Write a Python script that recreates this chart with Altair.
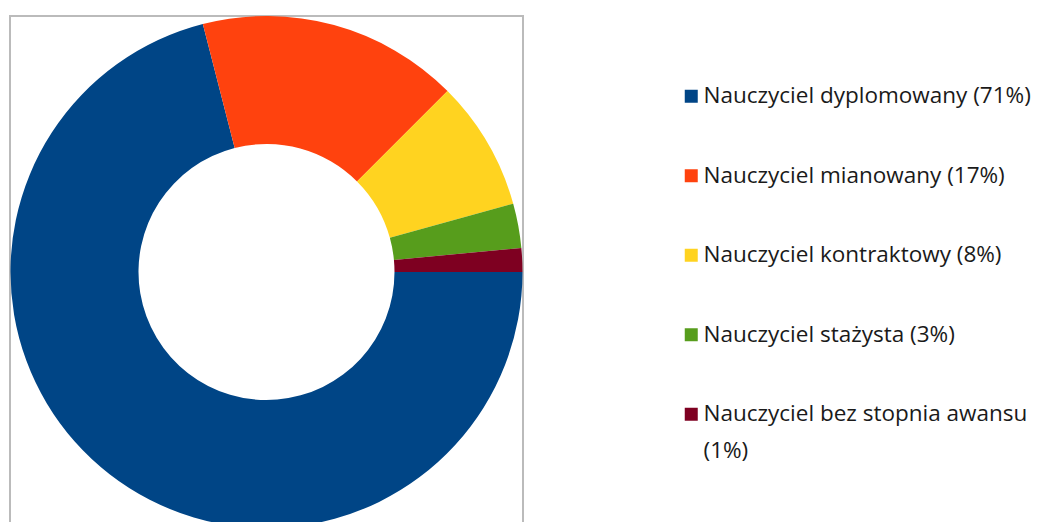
import math
import altair as alt
import pandas as pd

categories = [
    "Nauczyciel dyplomowany",
    "Nauczyciel mianowany",
    "Nauczyciel kontraktowy",
    "Nauczyciel stażysta",
    "Nauczyciel bez stopnia awansu",
]
shares = [71.0, 16.5, 8.2, 2.8, 1.5]
legend_pct = ["71%", "17%", "8%", "3%", "1%"]
colors = ["#004586", "#ff420e", "#ffd320", "#579d1c", "#7e0021"]

labels = []
for c, p in zip(categories, legend_pct):
    if c == "Nauczyciel bez stopnia awansu":
        labels.append(f"{c}\n({p})")
    else:
        labels.append(f"{c} ({p})")

df = pd.DataFrame({"label": labels, "value": shares, "idx": list(range(len(labels)))})

W, H = 513, 512

frame = (
    alt.Chart(pd.DataFrame({"f": [0]}))
    .mark_rect(filled=False, stroke="#bbbbbb", strokeWidth=2)
    .encode(
        x=alt.value(0),
        x2=alt.value(W),
        y=alt.value(0),
        y2=alt.value(H + 30),
    )
)

arcs = (
    alt.Chart(df)
    .mark_arc(innerRadius=128, outerRadius=256)
    .encode(
        theta=alt.Theta(
            "value:Q",
            stack=True,
            scale=alt.Scale(range=[math.pi / 2, math.pi / 2 + 2 * math.pi]),
        ),
        color=alt.Color(
            "label:N",
            scale=alt.Scale(domain=labels, range=colors),
            sort=labels,
            legend=alt.Legend(
                title=None,
                orient="none",
                legendX=670,
                legendY=69,
                symbolType="square",
                symbolSize=169,
                symbolStrokeWidth=0,
                labelFont="Open Sans",
                labelFontSize=22.5,
                labelColor="#1a1a1a",
                labelLimit=500,
                labelOffset=1,
                rowPadding=56.5,
                labelExpr="split(datum.label, '\\n')",
            ),
        ),
        order=alt.Order("idx:Q"),
    )
)

chart = (
    alt.layer(frame, arcs)
    .properties(
        width=W,
        height=H,
        padding={"left": 2, "top": 8, "right": 516, "bottom": 0},
        autosize=alt.AutoSizeParams(type="none"),
    )
    .configure_view(stroke=None)
    .configure(style={"guide-label": {"lineHeight": 37}})
)

chart.save("out.html", embed_options={"renderer": "svg", "actions": False})
